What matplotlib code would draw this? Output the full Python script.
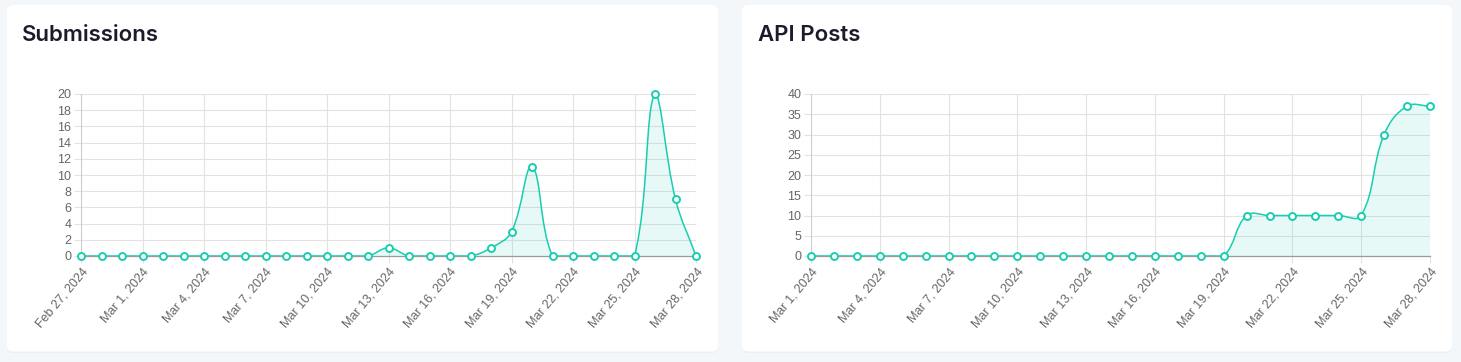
import numpy as np
import pandas as pd
import matplotlib
matplotlib.use("Agg")
import matplotlib.pyplot as plt
from matplotlib.patches import FancyBboxPatch, PathPatch
from matplotlib.path import Path

# data
sub_dates = pd.date_range("2024-02-27", "2024-03-28", freq="D")
sub_values = [0, 0, 0, 0, 0, 0, 0, 0, 0, 0, 0, 0, 0, 0, 0, 1, 0, 0, 0, 0, 1, 3, 11, 0, 0, 0, 0, 0, 20, 7, 0]
sub_yticks = list(range(0, 21, 2))

api_dates = pd.date_range("2024-03-01", "2024-03-28", freq="D")
api_values = [0, 0, 0, 0, 0, 0, 0, 0, 0, 0, 0, 0, 0, 0, 0, 0, 0, 0, 0, 10, 10, 10, 10, 10, 10, 30, 37, 37]
api_yticks = list(range(0, 41, 5))

LINE = "#19cdb0"
BG = "#f4f7fa"
GRID = "#e2e2e2"
W, H = 1461, 362

plt.rcParams["font.family"] = ["Liberation Sans", "DejaVu Sans"]

fig = plt.figure(figsize=(W / 100, H / 100), dpi=100)
fig.patch.set_facecolor(BG)


def card(x0, x1, y0, y1):
    # pixel coords from the top-left corner
    fig.patches.append(FancyBboxPatch((x0, H - y1), x1 - x0, y1 - y0,
                                      boxstyle="round,pad=0,rounding_size=6",
                                      transform=None, facecolor="#ecf0f4", edgecolor="none", zorder=-2))
    fig.patches.append(FancyBboxPatch((x0, H - y1 + 1.5), x1 - x0, y1 - y0 - 1.5,
                                      boxstyle="round,pad=0,rounding_size=6",
                                      transform=None, facecolor="white", edgecolor="none", zorder=-1))


def spline(ax, xs, ys, tension=0.4):
    # chart.js style bezier, worked out in pixel space
    pts = ax.transData.transform(np.column_stack([xs, ys]))
    bb = ax.bbox
    n = len(pts)
    verts = [pts[0]]
    ctrl = []
    for i in range(n):
        p0 = pts[i - 1] if i > 0 else pts[i]
        p1 = pts[i]
        p2 = pts[i + 1] if i < n - 1 else pts[i]
        d01 = np.hypot(*(p1 - p0))
        d12 = np.hypot(*(p2 - p1))
        tot = d01 + d12
        s01 = d01 / tot if tot else 0
        s12 = d12 / tot if tot else 0
        prev = p1 - tension * s01 * (p2 - p0)
        nxt = p1 + tension * s12 * (p2 - p0)
        prev = np.clip(prev, [bb.x0, bb.y0], [bb.x1, bb.y1])
        nxt = np.clip(nxt, [bb.x0, bb.y0], [bb.x1, bb.y1])
        ctrl.append((prev, nxt))
    codes = [Path.MOVETO]
    for i in range(1, n):
        verts += [ctrl[i - 1][1], ctrl[i][0], pts[i]]
        codes += [Path.CURVE4] * 3
    inv = ax.transData.inverted()
    return inv.transform(np.array(verts)), codes


def panel(title, tx, ax_box, dates, values, yticks):
    fig.text(tx / W, 1 - 41 / H, title, fontsize=16, fontweight="semibold",
             family=["Inter", "DejaVu Sans"], color="#1b1b2b", va="baseline")
    x0, x1, y0, y1 = ax_box
    ax = fig.add_axes([x0 / W, (H - y1) / H, (x1 - x0) / W, (y1 - y0) / H])
    ax.set_facecolor("none")
    xs = np.arange(len(dates))
    ax.set_xlim(0, len(dates) - 1)
    ax.set_ylim(yticks[0], yticks[-1])

    verts, codes = spline(ax, xs, values)
    ax.add_patch(PathPatch(Path(verts, codes), facecolor="none", edgecolor=LINE, lw=1.1, zorder=3))
    fill_v = np.vstack([verts, [[xs[-1], 0], [xs[0], 0], [xs[0], 0]]])
    fill_c = codes + [Path.LINETO, Path.LINETO, Path.CLOSEPOLY]
    ax.add_patch(PathPatch(Path(fill_v, fill_c), facecolor=LINE, alpha=0.1, edgecolor="none", zorder=2))
    ax.plot(xs, values, ls="none", marker="o", ms=5, mfc="white", mec=LINE, mew=1.4, zorder=4, clip_on=False)

    ticks = xs[::3]
    ax.set_xticks(ticks)
    ax.set_xticklabels([f"{d:%b} {d.day}, {d.year}" for d in dates[::3]],
                       rotation=50, ha="right", va="top", rotation_mode="anchor")
    ax.set_yticks(yticks)
    ax.grid(True, color=GRID, lw=0.8, zorder=0)
    ax.set_axisbelow(True)
    for s in ["top", "right"]:
        ax.spines[s].set_visible(False)
    ax.spines["left"].set_color("#cfcfcf")
    ax.spines["bottom"].set_color("#9a9a9a")
    ax.spines["left"].set_linewidth(0.8)
    ax.spines["bottom"].set_linewidth(0.9)
    ax.tick_params(axis="both", colors=GRID, labelcolor="#666666", labelsize=9, length=5, width=0.8, pad=2)
    return ax


card(7, 718, 5, 353)
card(742, 1452, 5, 353)

panel("Submissions", 22, (81, 696, 94, 256), sub_dates, sub_values, sub_yticks)
panel("API Posts", 758, (811, 1430, 94, 256), api_dates, api_values, api_yticks)

fig.savefig("out.png", dpi=100, facecolor=BG)
